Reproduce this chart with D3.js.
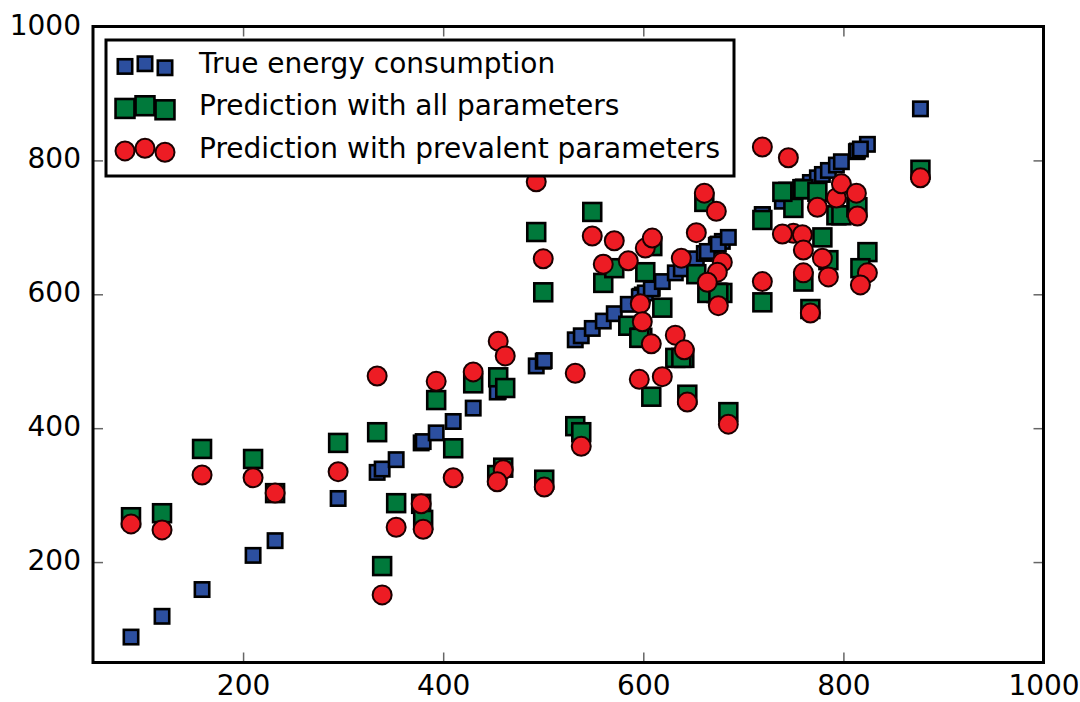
<!DOCTYPE html>
<html>
<head>
<meta charset="utf-8">
<script src="https://cdn.jsdelivr.net/npm/d3@7/dist/d3.min.js"></script>
<style>
  html, body { margin: 0; padding: 0; background: #fff; }
  svg { display: block; }
</style>
</head>
<body>
<svg id="chart" width="1080" height="702"></svg>
<script>
// ---- data ----
const trueVals = [88,119,159,210,232,295,334,339,353,378,380,393,410,430,455,462,460,454,493,500,501,532,538,549,560,571,585,597,599,596,602,609,608,619,632,641,644,653,638,661,673,679,674,664,675,685,719,719,745,750,739,759,760,760,767,774,779,785,793,798,813,814,824,817,877];
const predAll  = [267,273,369,354,303,378,394,194,288,287,263,442,370,467,476,460,341,330,693,603,323,403,394,723,617,639,553,535,535,535,633,672,447,580,505,505,450,630,505,738,602,602,602,602,602,424,711,588,753,729,753,757,619,757,578,753,685,651,718,718,730,730,663,639,786];
const predPrev = [257,248,330,326,303,335,478,151,252,287,249,470,326,484,530,508,338,320,768,653,312,482,373,687,645,680,650,586,559,473,669,684,526,477,539,517,439,692,654,751,724,648,633,618,583,406,820,619,804,691,690,689,632,666,572,730,654,626,744,765,751,717,632,614,774];
const xTicks = [200,400,600,800,1000];
const yTicks = [200,400,600,800,1000];
const seriesNames = ["True energy consumption","Prediction with all parameters","Prediction with prevalent parameters"];
const seriesColors = ["#2c4f9f","#00793b","#ed1c24"];

(function () {
// ---- layout ----
const svg = d3.select("#chart");
const pL = 93, pR = 1043.5, pT = 26.5, pB = 662.5;
const x = d3.scaleLinear().domain([50,1000]).range([pL,pR]);
const y = d3.scaleLinear().domain([50,1000]).range([pB,pT]);
const FONT = "DejaVu Sans";

// points
const plot = svg.append("g");
const sBlue = 14.4, sGreen = 17.9, rRed = 9.5;
plot.append("g").selectAll("rect").data(trueVals).join("rect")
  .attr("x", d => x(d) - sBlue/2).attr("y", d => y(d) - sBlue/2)
  .attr("width", sBlue).attr("height", sBlue)
  .attr("fill", seriesColors[0]).attr("stroke", "#000").attr("stroke-width", 2.6);
plot.append("g").selectAll("rect").data(predAll).join("rect")
  .attr("x", (d,i) => x(trueVals[i]) - sGreen/2).attr("y", d => y(d) - sGreen/2)
  .attr("width", sGreen).attr("height", sGreen)
  .attr("fill", seriesColors[1]).attr("stroke", "#000").attr("stroke-width", 2.6);
plot.append("g").selectAll("circle").data(predPrev).join("circle")
  .attr("cx", (d,i) => x(trueVals[i])).attr("cy", d => y(d)).attr("r", rRed)
  .attr("fill", seriesColors[2]).attr("stroke", "#1a0000").attr("stroke-width", 2);

// axes (inward ticks on all sides)
function styleAxis(g) {
  g.select(".domain").remove();
  g.selectAll(".tick line").attr("stroke", "#666").attr("stroke-width", 1.5);
  g.selectAll("text").attr("font-family", FONT).attr("font-size", 28).attr("fill", "#000");
  g.attr("font-family", FONT).attr("font-size", 28);
}
const gxB = svg.append("g").attr("transform", `translate(0,${pB})`)
  .call(d3.axisBottom(x).tickValues(xTicks).tickSize(-10).tickFormat(d3.format("d")));
styleAxis(gxB);
gxB.selectAll("text").attr("y", 32.5).attr("dy", null);

const gxT = svg.append("g").attr("transform", `translate(0,${pT})`)
  .call(d3.axisTop(x).tickValues(xTicks).tickSize(-10).tickFormat(""));
styleAxis(gxT);

const gyL = svg.append("g").attr("transform", `translate(${pL},0)`)
  .call(d3.axisLeft(y).tickValues(yTicks).tickSize(-10).tickFormat(d3.format("d")));
styleAxis(gyL);
gyL.selectAll("text").attr("x", -12).attr("y", 7.5).attr("dy", null).attr("text-anchor", "end");

const gyR = svg.append("g").attr("transform", `translate(${pR},0)`)
  .call(d3.axisRight(y).tickValues(yTicks).tickSize(-10).tickFormat(""));
styleAxis(gyR);

// frame
svg.append("rect").attr("x", pL).attr("y", pT)
  .attr("width", pR - pL).attr("height", pB - pT)
  .attr("fill", "none").attr("stroke", "#000").attr("stroke-width", 3);

// legend
const lg = svg.append("g");
lg.append("rect").attr("x", 106).attr("y", 40).attr("width", 628).attr("height", 136)
  .attr("fill", "#fff").attr("stroke", "#000").attr("stroke-width", 3);
const baselines = [73, 115, 157.5];
const offs = [0.375, 0.5, 0.3125];
const mx = [125, 145, 165];
seriesNames.forEach((name, k) => {
  const b = baselines[k];
  offs.forEach((o, j) => {
    const cy = b + 1.5 - 21.5 * o;
    if (k === 0) {
      lg.append("rect").attr("x", mx[j] - sBlue/2).attr("y", cy - sBlue/2)
        .attr("width", sBlue).attr("height", sBlue)
        .attr("fill", seriesColors[0]).attr("stroke", "#000").attr("stroke-width", 2.6);
    } else if (k === 1) {
      lg.append("rect").attr("x", mx[j] - sGreen/2 - 0.5).attr("y", cy - sGreen/2 - 0.5)
        .attr("width", sGreen + 1).attr("height", sGreen + 1)
        .attr("fill", seriesColors[1]).attr("stroke", "#000").attr("stroke-width", 2.6);
    } else {
      lg.append("circle").attr("cx", mx[j]).attr("cy", cy).attr("r", rRed)
        .attr("fill", seriesColors[2]).attr("stroke", "#1a0000").attr("stroke-width", 2);
    }
  });
  lg.append("text").attr("x", 199).attr("y", b)
    .attr("font-family", FONT).attr("font-size", 28).attr("fill", "#000")
    .text(name);
});
})();
</script>
</body>
</html>
